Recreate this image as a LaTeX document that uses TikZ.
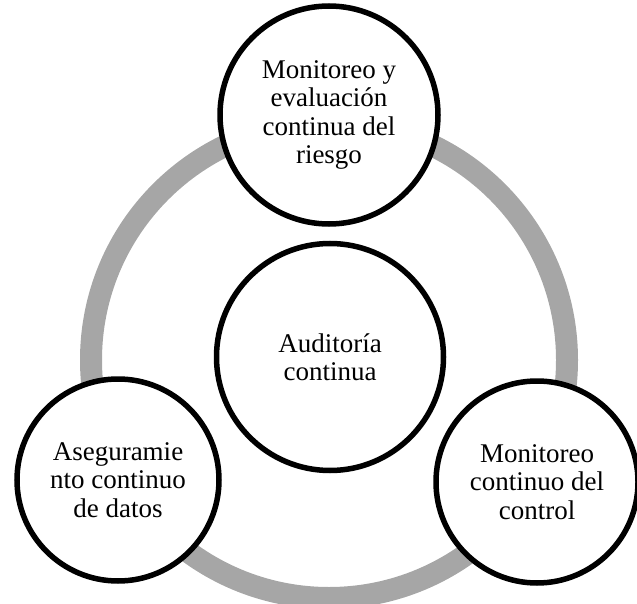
\documentclass[tikz,border=0pt]{standalone}
\usepackage{fontspec}
\setmainfont{Liberation Serif}
\definecolor{ringgray}{RGB}{166,166,166}
\begin{document}
\begin{tikzpicture}[x=1pt,y=-1pt,
  bubble/.style={circle, draw=black, line width=5.5pt, fill=white,
    inner sep=0pt, align=center, font=\fontsize{27}{28.5}\selectfont},
  cyclering/.style={draw=ringgray, line width=22pt}]
\useasboundingbox (0,0) rectangle (637,604);
% grey cycle ring behind the bubbles
\coordinate (hub) at (329,360);
\draw[cyclering] (hub) circle[radius=238pt];
% bubbles
\node[bubble, minimum size=218pt] (risk) at (329,115)
  {Monitoreo y\\evaluación\\continua del\\riesgo};
\node[bubble, minimum size=227pt] (audit) at (330,357)
  {Auditoría\\continua};
\node[bubble, minimum size=202pt] (data) at (118,480)
  {Aseguramie\\nto continuo\\de datos};
\node[bubble, minimum size=202pt] (control) at (537,482)
  {Monitoreo\\continuo del\\control};
\end{tikzpicture}
\end{document}
